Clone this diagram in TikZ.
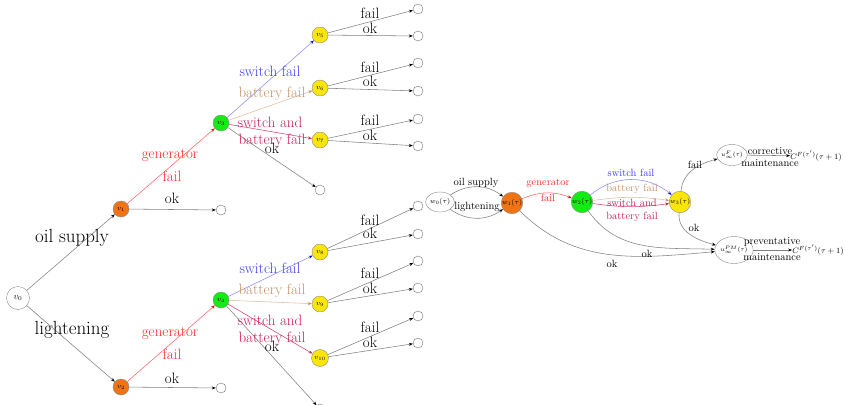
\documentclass[tikz,border=0pt]{standalone}
\usetikzlibrary{arrows.meta,shapes.geometric}
\definecolor{cred}{RGB}{255,40,40}
\definecolor{cblue}{RGB}{60,60,255}
\definecolor{ctan}{RGB}{195,145,100}
\definecolor{ccrim}{RGB}{200,30,85}
\definecolor{corange}{RGB}{240,115,20}
\definecolor{cgreen}{RGB}{20,235,20}
\definecolor{cyellow}{RGB}{250,230,10}
\tikzset{
  vn/.style={circle,draw=black!45,inner sep=0pt,minimum size=16pt,font=\fontsize{7.5}{8}\selectfont},
  leaf/.style={circle,draw=black!55,fill=white,inner sep=0pt,minimum size=10pt},
  edg/.style={draw=black!50,line width=0.55pt,-{Stealth[length=4pt,width=3pt,black]}},
  redg/.style={draw=red!60,line width=0.55pt,-{Stealth[length=4pt,width=3pt,red]}},
  bedg/.style={draw=blue!45,line width=0.55pt,-{Stealth[length=4pt,width=3pt,blue]}},
  tedg/.style={draw=ctan!60,line width=0.55pt,-{Stealth[length=4pt,width=3pt,ctan]}},
  cedg/.style={draw=ccrim!85,line width=0.55pt,-{Stealth[length=4pt,width=3pt,ccrim]}},
  lab/.style={inner sep=0pt,font=\fontsize{15}{17}\selectfont},
  biglab/.style={inner sep=0pt,font=\fontsize{19}{22}\selectfont},
  rlab/.style={inner sep=0pt,font=\fontsize{10.5}{12}\selectfont},
  wn/.style={draw=black!45,inner sep=0pt,font=\fontsize{7}{8}\selectfont},
  cn/.style={inner sep=0pt,font=\fontsize{8.5}{10}\selectfont},
}
\begin{document}
\begin{tikzpicture}[x=1pt,y=1pt]
\useasboundingbox (0,0) rectangle (845,-404);
% ---------------- left tree ----------------
\node[vn,minimum size=23pt,font=\fontsize{9}{10}\selectfont] (v0) at (18,-298) {$v_0$};
\node[vn,fill=corange] (v1) at (121,-209) {$v_1$};
\node[vn,fill=corange] (v2) at (121,-387) {$v_2$};
\node[vn,fill=cgreen] (v3) at (221,-123) {$v_3$};
\node[vn,fill=cgreen] (v4) at (221,-300) {$v_4$};
\node[vn,fill=cyellow] (v5) at (320,-35) {$v_5$};
\node[vn,fill=cyellow] (v6) at (320,-88) {$v_6$};
\node[vn,fill=cyellow] (v7) at (320,-140) {$v_7$};
\node[vn,fill=cyellow] (v8) at (320,-252) {$v_8$};
\node[vn,fill=cyellow] (v9) at (320,-304) {$v_9$};
\node[vn,fill=cyellow,minimum size=17pt] (v10) at (320,-358) {$v_{10}$};
\node[leaf] (e1) at (221,-210) {};
\node[leaf] (e2) at (221,-388) {};
\node[leaf] (e3) at (320,-190) {};
\node[leaf] (e4) at (320,-409) {};
\node[leaf] (e5a) at (418,-9) {};
\node[leaf] (e5b) at (418,-36) {};
\node[leaf] (e6a) at (418,-63) {};
\node[leaf] (e6b) at (418,-91) {};
\node[leaf] (e7a) at (418,-119) {};
\node[leaf] (e7b) at (418,-146) {};
\node[leaf] (e8a) at (418,-206) {};
\node[leaf] (e8b) at (418,-234) {};
\node[leaf] (e9a) at (418,-261) {};
\node[leaf] (e9b) at (418,-288) {};
\node[leaf] (e10a) at (418,-316) {};
\node[leaf] (e10b) at (418,-343) {};
\draw[edg] (v0) -- (v1);
\draw[edg] (v0) -- (v2);
\draw[redg] (v1) -- (v3);
\draw[edg] (v1) -- (e1);
\draw[redg] (v2) -- (v4);
\draw[edg] (v2) -- (e2);
\draw[bedg] (v3) -- (v5);
\draw[tedg] (v3) -- (v6);
\draw[cedg] (v3) -- (v7);
\draw[edg] (v3) -- (e3);
\draw[bedg] (v4) -- (v8);
\draw[tedg] (v4) -- (v9);
\draw[cedg] (v4) -- (v10);
\draw[edg] (v4) -- (e4);
\foreach \a in {5,6,7,8,9,10}{
  \draw[edg] (v\a) -- (e\a a);
  \draw[edg] (v\a) -- (e\a b);
}
\node[biglab] (l01) at (72,-238) {oil supply};
\node[biglab] (l02) at (72,-330) {lightening};
\node[lab,text=cred] (l13a) at (170,-155) {generator};
\node[lab,text=cred] (l13b) at (172,-176) {fail};
\node[lab] (l1e) at (172,-198) {ok};
\node[lab,text=cred] (l24a) at (170,-333) {generator};
\node[lab,text=cred] (l24b) at (172,-354) {fail};
\node[lab] (l2e) at (172,-378) {ok};
\node[lab,text=cblue] (l35) at (270,-71) {switch fail};
\node[lab,text=ctan] (l36) at (272,-94) {battery fail};
\node[lab,text=ccrim] (l37a) at (270,-122) {switch and};
\node[lab,text=ccrim] (l37b) at (272,-141) {battery fail};
\node[lab] (l3e) at (272,-148) {ok};
\node[lab,text=cblue] (l48) at (270,-268) {switch fail};
\node[lab,text=ctan] (l49) at (272,-291) {battery fail};
\node[lab,text=ccrim] (l410a) at (270,-320) {switch and};
\node[lab,text=ccrim] (l410b) at (272,-339) {battery fail};
\node[lab] (l4e) at (272,-346) {ok};
\node[lab] (f5) at (370,-13) {fail};
\node[lab] (o5) at (370,-28) {ok};
\node[lab] (f6) at (370,-67) {fail};
\node[lab] (o6) at (370,-81) {ok};
\node[lab] (f7) at (370,-120) {fail};
\node[lab] (o7) at (370,-135) {ok};
\node[lab] (f8) at (370,-220) {fail};
\node[lab] (o8) at (370,-233) {ok};
\node[lab] (f9) at (370,-273) {fail};
\node[lab] (o9) at (370,-288) {ok};
\node[lab] (f10) at (370,-327) {fail};
\node[lab] (o10) at (370,-342) {ok};
% ---------------- right graph ----------------
\node[wn,ellipse,minimum width=23pt,minimum height=20pt] (w0) at (440,-202) {$w_0(\tau)$};
\node[wn,circle,fill=corange,minimum size=21pt] (w1) at (512,-203) {$w_1(\tau)$};
\node[wn,circle,fill=cgreen,minimum size=20pt] (w2) at (582,-202) {$w_2(\tau)$};
\node[wn,circle,fill=cyellow,minimum size=21pt] (w3) at (680,-202) {$w_3(\tau)$};
\node[wn,ellipse,minimum width=28pt,minimum height=21pt,font=\fontsize{6}{7}\selectfont] (uF) at (732,-155) {$u^{F}_{\infty}(\tau)$};
\node[wn,ellipse,minimum width=33pt,minimum height=27pt,font=\fontsize{6}{7}\selectfont] (uP) at (734,-250) {$u^{PM}_{\infty}(\tau)$};
\node[cn] (CF) at (816,-156) {$C^{F(\tau')}(\tau+1)$};
\node[cn] (CP) at (818,-250) {$C^{F(\tau')}(\tau+1)$};
\draw[edg] (w0) to[bend left=35] (w1);
\draw[edg] (w0) to[bend right=35] (w1);
\draw[redg] (w1) to[bend left=22] (w2);
\draw[bedg] (w2) to[bend left=40] (w3);
\draw[tedg] (w2) to[bend left=8] (w3);
\draw[cedg] (w2) to[bend right=8] (w3);
\draw[edg] (w3) to[out=85,in=195] (uF);
\draw[edg] (w3) to[out=-95,in=165] (uP);
\draw[edg] (w2) to[out=-55,in=178] (uP);
\draw[edg] (w1) to[out=-45,in=185] (uP);
\draw[edg] (uF) -- (CF);
\draw[edg] (uP) -- (CP);
\node[rlab] (r01a) at (476,-183) {oil supply};
\node[rlab] (r01b) at (477,-207) {lightening};
\node[rlab,text=cred] (r12a) at (548,-183) {generator};
\node[rlab,text=cred] (r12b) at (548,-198) {fail};
\node[rlab,text=cblue] (r23a) at (631,-173) {switch fail};
\node[rlab,text=ctan] (r23b) at (632,-189) {battery fail};
\node[rlab,text=ccrim] (r23c) at (632,-203) {switch and};
\node[rlab,text=ccrim] (r23d) at (632,-217) {battery fail};
\node[rlab] (r3F) at (695,-165) {fail};
\node[rlab] (r3P) at (694,-228) {ok};
\node[rlab] (r2P) at (647,-254) {ok};
\node[rlab] (r1P) at (612,-264) {ok};
\node[rlab] (rFa) at (770,-151) {corrective};
\node[rlab] (rFb) at (770,-163) {maintenance};
\node[rlab] (rPa) at (772,-242) {preventative};
\node[rlab] (rPb) at (772,-257) {maintenance};
\end{tikzpicture}
\end{document}
